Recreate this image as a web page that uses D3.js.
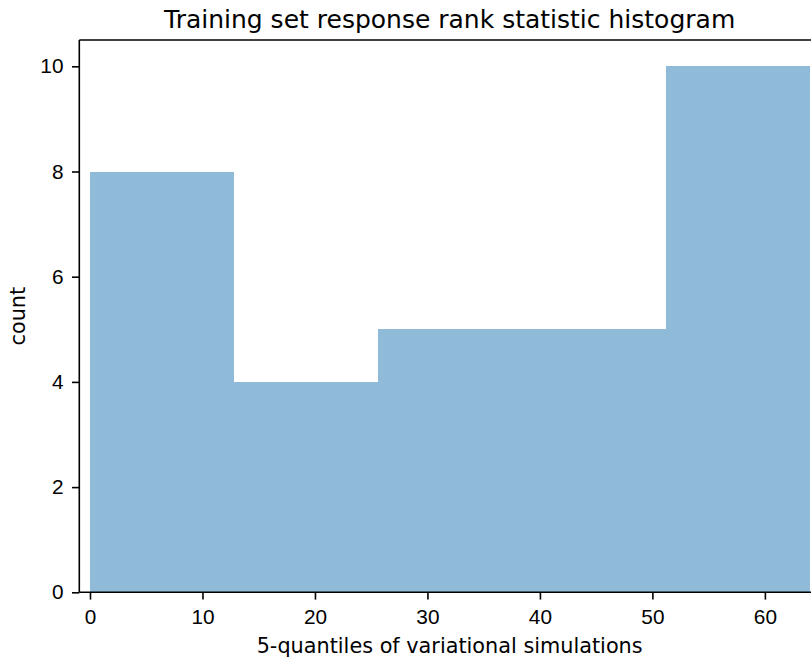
<!DOCTYPE html>
<html>
<head>
<meta charset="utf-8">
<script src="https://cdn.jsdelivr.net/npm/d3@7"></script>
<style>
  html, body { margin: 0; padding: 0; background: #fff; }
  svg { display: block; font-family: "DejaVu Sans", sans-serif; }
</style>
</head>
<body>
<div id="chart"></div>
<script>
// Histogram bins: rank statistic in 5 equal-width quantile bins
const binEdges = [0, 12.8, 25.6, 38.4, 51.2, 64];
const binCounts = [8, 4, 5, 5, 10];
const xTicks = [0, 10, 20, 30, 40, 50, 60];
const yTicks = [0, 2, 4, 6, 8, 10];

const width = 811, height = 658;
const plot = { left: 79.3, right: 820, top: 40, bottom: 592.3 };

const svg = d3.select("#chart").append("svg")
  .attr("width", width).attr("height", height);

const x = d3.scaleLinear().domain([-0.95, 64.9]).range([plot.left, plot.right]);
const y = d3.scaleLinear().domain([0, 10.5]).range([plot.bottom, plot.top]);

const bins = binCounts.map((c, i) => ({ x0: binEdges[i], x1: binEdges[i + 1], count: c }));

svg.append("g").selectAll("rect").data(bins).join("rect")
  .attr("x", d => x(d.x0))
  .attr("width", d => x(d.x1) - x(d.x0))
  .attr("y", d => y(d.count))
  .attr("height", d => y(0) - y(d.count))
  .attr("fill", "#1f77b4")
  .attr("fill-opacity", 0.5)
  .attr("shape-rendering", "crispEdges");

// Axes
const xAxis = d3.axisBottom(x).tickValues(xTicks).tickSize(7.3).tickPadding(9.5).tickFormat(d3.format("d"));
const yAxis = d3.axisLeft(y).tickValues(yTicks).tickSize(7.3).tickPadding(8.5).tickFormat(d3.format("d"));

const gx = svg.append("g").attr("transform", `translate(0,${plot.bottom})`).call(xAxis);
const gy = svg.append("g").attr("transform", `translate(${plot.left},0)`).call(yAxis);

[gx, gy].forEach(g => {
  g.select(".domain").remove();
  g.selectAll(".tick line").attr("stroke", "#000").attr("stroke-width", 1.6);
  g.selectAll(".tick text").attr("fill", "#000").style("font-size", "20.8px");
});

// Spines (left, bottom, top)
function line(x1, y1, x2, y2) {
  return svg.append("line")
    .attr("x1", x1).attr("y1", y1).attr("x2", x2).attr("y2", y2)
    .attr("stroke", "#000").attr("stroke-width", 1.6);
}
line(plot.left, plot.top, plot.left, plot.bottom);
line(plot.left, plot.bottom, plot.right, plot.bottom);
line(plot.left, plot.top, plot.right, plot.top);

const cx = (plot.left + plot.right) / 2;

svg.append("text")
  .attr("x", cx).attr("y", 28)
  .attr("text-anchor", "middle")
  .style("font-size", "25px")
  .text("Training set response rank statistic histogram");

svg.append("text")
  .attr("x", cx).attr("y", 653)
  .attr("text-anchor", "middle")
  .style("font-size", "20.8px")
  .text("5-quantiles of variational simulations");

svg.append("text")
  .attr("transform", `translate(25,${(plot.top + plot.bottom) / 2}) rotate(-90)`)
  .attr("text-anchor", "middle")
  .style("font-size", "20.8px")
  .text("count");
</script>
</body>
</html>
